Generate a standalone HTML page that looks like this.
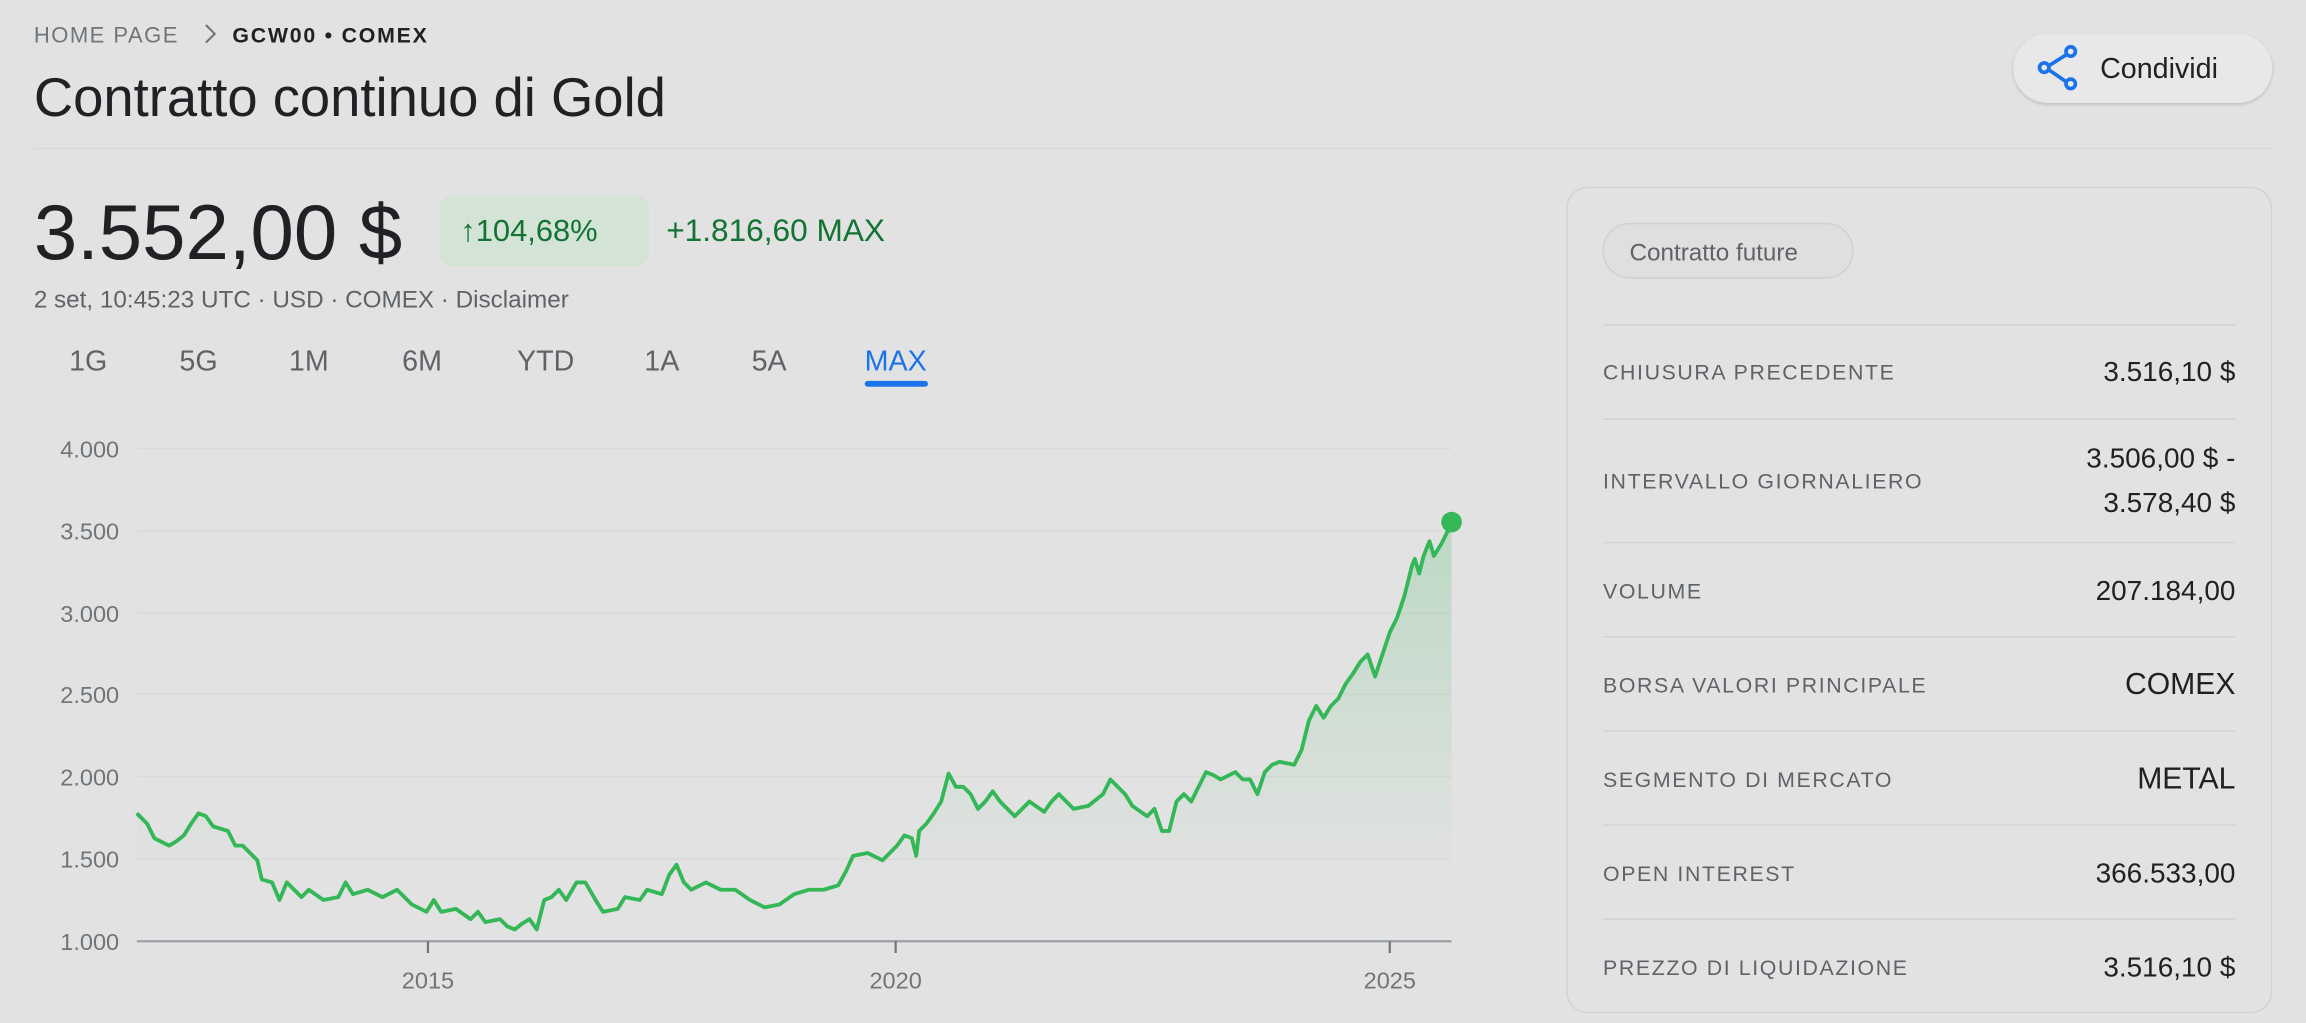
<!DOCTYPE html>
<html><head><meta charset="utf-8"><style>
html,body{margin:0;padding:0;background:#e2e2e2;width:2306px;height:1023px;overflow:hidden}
svg{display:block;font-family:"Liberation Sans",sans-serif}
</style></head><body>
<svg width="2306" height="1023" viewBox="0 0 1568 695.6" xmlns="http://www.w3.org/2000/svg">
<defs>
<linearGradient id="g" x1="0" y1="0" x2="0" y2="1">
<stop offset="0" stop-color="#34b757" stop-opacity="0.22"/>
<stop offset="0.85" stop-color="#34b757" stop-opacity="0"/>
</linearGradient>
<filter id="sh" x="-10%" y="-30%" width="120%" height="160%"><feDropShadow dx="0" dy="1" stdDeviation="1.2" flood-color="#000" flood-opacity="0.18"/></filter>
</defs>
<rect width="1568" height="695.6" fill="#e2e2e2"/>
<text x="23" y="29" font-size="15" fill="#70757a" letter-spacing="1">HOME PAGE</text>
<path d="M140 17 L146 23 L140 29" stroke="#70757a" stroke-width="1.4" fill="none"/>
<text x="158" y="29" font-size="14.5" fill="#202124" font-weight="bold" letter-spacing="1.2">GCW00 • COMEX</text>
<text x="23" y="79" font-size="37" fill="#202124">Contratto continuo di Gold</text>
<rect x="1369" y="23" width="176" height="47" rx="23.5" fill="#e8e8e8" filter="url(#sh)"/>
<g stroke="#1a73e8" stroke-width="2.5" fill="none">
<line x1="1391" y1="46" x2="1407" y2="36"/><line x1="1391" y1="46" x2="1407" y2="57"/>
<circle cx="1390" cy="46" r="3.2" fill="#e8e8e8"/><circle cx="1408" cy="35" r="3.2" fill="#e8e8e8"/><circle cx="1408" cy="57" r="3.2" fill="#e8e8e8"/>
</g>
<text x="1428" y="53" font-size="19.5" fill="#202124">Condividi</text>
<line x1="23" y1="101" x2="1545" y2="101" stroke="#d7d7d7" stroke-width="1"/>
<text x="23" y="176" font-size="53" fill="#202124">3.552,00 $</text>
<rect x="299" y="133" width="142" height="48" rx="8" fill="#d3e3d6"/>
<text x="313" y="164" font-size="21" fill="#137333">↑104,68%</text>
<text x="453" y="164" font-size="21.5" fill="#137333">+1.816,60 MAX</text>
<text x="23" y="209" font-size="16.5" fill="#5f6368">2 set, 10:45:23 UTC · USD · COMEX · Disclaimer</text>
<g font-size="19.5" fill="#5f6368" text-anchor="middle">
<text x="60" y="252">1G</text><text x="135" y="252">5G</text><text x="210" y="252">1M</text><text x="287" y="252">6M</text><text x="371" y="252">YTD</text><text x="450" y="252">1A</text><text x="523" y="252">5A</text><text x="609" y="252" fill="#1a73e8">MAX</text>
</g>
<rect x="588" y="259" width="43" height="4" rx="2" fill="#1a73e8"/>
<g stroke="#dadada" stroke-width="1">
<line x1="93" y1="305" x2="987" y2="305"/><line x1="93" y1="361" x2="987" y2="361"/><line x1="93" y1="417" x2="987" y2="417"/><line x1="93" y1="472" x2="987" y2="472"/><line x1="93" y1="528" x2="987" y2="528"/><line x1="93" y1="584" x2="987" y2="584"/>
</g>
<g font-size="16" fill="#70757a" text-anchor="end">
<text x="81" y="311">4.000</text><text x="81" y="367">3.500</text><text x="81" y="423">3.000</text><text x="81" y="478">2.500</text><text x="81" y="534">2.000</text><text x="81" y="590">1.500</text><text x="81" y="646">1.000</text>
</g>
<path fill="url(#g)" d="M93,553 L100,560 L105,570 L115,575 L120,572 L125,568 L130,560 L135,553 L140,555 L145,562 L155,565 L160,575 L165,575 L170,580 L175,585 L178,598 L185,600 L190,612 L195,600 L200,605 L205,610 L210,605 L220,612 L230,610 L235,600 L240,608 L250,605 L260,610 L270,605 L280,615 L290,620 L295,612 L300,620 L310,618 L320,625 L325,620 L330,627 L340,625 L345,630 L350,632 L355,628 L360,625 L365,632 L370,612 L375,610 L380,605 L385,612 L392,600 L398,600 L405,612 L410,620 L420,618 L425,610 L435,612 L440,605 L450,608 L455,595 L460,588 L465,600 L470,605 L480,600 L490,605 L500,605 L510,612 L520,617 L530,615 L540,608 L550,605 L560,605 L570,602 L575,593 L580,582 L590,580 L600,585 L605,580 L610,575 L615,568 L620,570 L623,582 L625,565 L630,560 L635,553 L640,545 L645,526 L650,535 L655,535 L660,540 L665,550 L670,545 L675,538 L680,545 L690,555 L700,545 L710,552 L715,545 L720,540 L730,550 L740,548 L750,540 L755,530 L760,535 L765,540 L770,548 L780,555 L785,550 L790,565 L795,565 L800,545 L805,540 L810,545 L815,535 L820,525 L825,527 L830,530 L840,525 L845,530 L850,530 L855,540 L860,525 L865,520 L870,518 L880,520 L885,510 L890,490 L895,480 L900,488 L905,480 L910,475 L915,465 L920,458 L925,450 L930,445 L935,460 L940,445 L945,430 L950,420 L955,405 L960,385 L962,380 L965,390 L968,378 L972,368 L975,378 L980,370 L985,360 L987,355 L987,640 L93,640 Z"/>
<path fill="none" stroke="#34b757" stroke-width="2.6" stroke-linejoin="round" d="M93,553 L100,560 L105,570 L115,575 L120,572 L125,568 L130,560 L135,553 L140,555 L145,562 L155,565 L160,575 L165,575 L170,580 L175,585 L178,598 L185,600 L190,612 L195,600 L200,605 L205,610 L210,605 L220,612 L230,610 L235,600 L240,608 L250,605 L260,610 L270,605 L280,615 L290,620 L295,612 L300,620 L310,618 L320,625 L325,620 L330,627 L340,625 L345,630 L350,632 L355,628 L360,625 L365,632 L370,612 L375,610 L380,605 L385,612 L392,600 L398,600 L405,612 L410,620 L420,618 L425,610 L435,612 L440,605 L450,608 L455,595 L460,588 L465,600 L470,605 L480,600 L490,605 L500,605 L510,612 L520,617 L530,615 L540,608 L550,605 L560,605 L570,602 L575,593 L580,582 L590,580 L600,585 L605,580 L610,575 L615,568 L620,570 L623,582 L625,565 L630,560 L635,553 L640,545 L645,526 L650,535 L655,535 L660,540 L665,550 L670,545 L675,538 L680,545 L690,555 L700,545 L710,552 L715,545 L720,540 L730,550 L740,548 L750,540 L755,530 L760,535 L765,540 L770,548 L780,555 L785,550 L790,565 L795,565 L800,545 L805,540 L810,545 L815,535 L820,525 L825,527 L830,530 L840,525 L845,530 L850,530 L855,540 L860,525 L865,520 L870,518 L880,520 L885,510 L890,490 L895,480 L900,488 L905,480 L910,475 L915,465 L920,458 L925,450 L930,445 L935,460 L940,445 L945,430 L950,420 L955,405 L960,385 L962,380 L965,390 L968,378 L972,368 L975,378 L980,370 L985,360 L987,355"/>
<circle cx="987" cy="355" r="7" fill="#34b757"/>
<line x1="93" y1="640" x2="987" y2="640" stroke="#9aa0a6" stroke-width="1.5"/>
<g stroke="#70757a" stroke-width="1.5"><line x1="291" y1="640" x2="291" y2="648"/><line x1="609" y1="640" x2="609" y2="648"/><line x1="945" y1="640" x2="945" y2="648"/></g>
<g font-size="16" fill="#70757a" text-anchor="middle"><text x="291" y="672">2015</text><text x="609" y="672">2020</text><text x="945" y="672">2025</text></g>
<rect x="1065.5" y="127.5" width="479" height="561" rx="14" fill="none" stroke="#d3d3d3"/>
<rect x="1090" y="152" width="170" height="37" rx="18.5" fill="#dfdfdf" stroke="#d0d0d0"/>
<text x="1108" y="177" font-size="16.5" fill="#5f6368">Contratto future</text>
<g stroke="#d3d3d3"><line x1="1090" y1="221" x2="1520" y2="221"/><line x1="1090" y1="285" x2="1520" y2="285"/><line x1="1090" y1="369" x2="1520" y2="369"/><line x1="1090" y1="433" x2="1520" y2="433"/><line x1="1090" y1="497" x2="1520" y2="497"/><line x1="1090" y1="561" x2="1520" y2="561"/><line x1="1090" y1="625" x2="1520" y2="625"/></g>
<g font-size="14.5" fill="#5f6368" letter-spacing="1.1">
<text x="1090" y="258">CHIUSURA PRECEDENTE</text><text x="1090" y="332">INTERVALLO GIORNALIERO</text><text x="1090" y="407">VOLUME</text><text x="1090" y="471">BORSA VALORI PRINCIPALE</text><text x="1090" y="535">SEGMENTO DI MERCATO</text><text x="1090" y="599">OPEN INTEREST</text><text x="1090" y="663">PREZZO DI LIQUIDAZIONE</text>
</g>
<g font-size="19" fill="#202124" text-anchor="end">
<text x="1520" y="259">3.516,10 $</text><text x="1520" y="318">3.506,00 $ -</text><text x="1520" y="348">3.578,40 $</text><text x="1520" y="408">207.184,00</text><text x="1520" y="472" font-size="20.5">COMEX</text><text x="1520" y="536" font-size="20.5">METAL</text><text x="1520" y="600">366.533,00</text><text x="1520" y="664">3.516,10 $</text>
</g>
</svg>
</body></html>
